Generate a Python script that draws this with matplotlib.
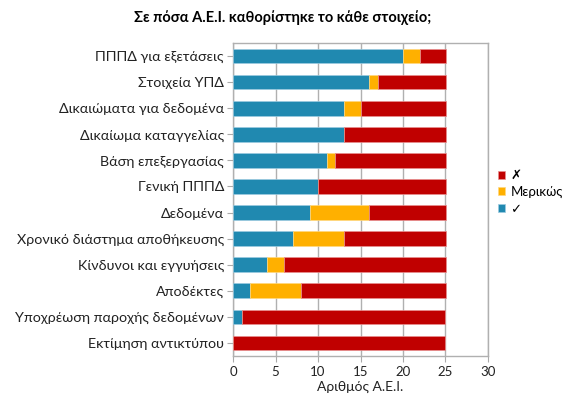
import matplotlib
matplotlib.use("Agg")
import matplotlib.pyplot as plt
import numpy as np

plt.rcParams['font.family'] = ['Lato', 'DejaVu Sans']

# δεδομένα (από πάνω προς τα κάτω)
categories = ["ΠΠΠΔ για εξετάσεις", "Στοιχεία ΥΠΔ", "Δικαιώματα για δεδομένα",
              "Δικαίωμα καταγγελίας", "Βάση επεξεργασίας", "Γενική ΠΠΠΔ",
              "Δεδομένα", "Χρονικό διάστημα αποθήκευσης", "Κίνδυνοι και εγγυήσεις",
              "Αποδέκτες", "Υποχρέωση παροχής δεδομένων", "Εκτίμηση αντικτύπου"]
yes = [20, 16, 13, 13, 11, 10, 9, 7, 4, 2, 1, 0]
partial = [2, 1, 2, 0, 1, 0, 7, 6, 2, 6, 0, 0]
no = [3, 8, 10, 12, 13, 15, 9, 12, 19, 17, 24, 25]
x_ticks = [0, 5, 10, 15, 20, 25, 30]

c_yes = "#2089b0"
c_part = "#ffb000"
c_no = "#c00000"

fig = plt.figure(figsize=(5.66, 3.97), dpi=100)
ax = fig.add_axes([233 / 566, 1 - 356 / 397, 255 / 566, 313 / 397])

y = np.arange(len(categories))
yes_a = np.array(yes)
part_a = np.array(partial)
no_a = np.array(no)
h = 0.56
ax.barh(y, yes_a, height=h, color=c_yes, edgecolor="#9ccbe0", linewidth=0.5, label="✓", zorder=3)
ax.barh(y, part_a, left=yes_a, height=h, color=c_part, edgecolor="#ffd880", linewidth=0.5, label="Μερικώς", zorder=3)
ax.barh(y, no_a, left=yes_a + part_a, height=h, color=c_no, edgecolor="#e89090", linewidth=0.5, label="✗", zorder=3)

ax.set_yticks(y)
ax.set_yticklabels(categories, fontsize=10.25, color="#222222")
ax.set_ylim(len(categories) - 0.5, -0.5)
ax.set_xlim(0, 30)
ax.set_xticks(x_ticks)
ax.tick_params(axis="x", labelsize=9.5, colors="#222222", length=4, color="#aaaaaa")
ax.tick_params(axis="y", length=4, color="#aaaaaa", pad=2.5)
ax.grid(axis="x", color="#b0b0b0", linewidth=1, zorder=0)
for s in ax.spines.values():
    s.set_color("#b0b0b0")
    s.set_linewidth(1)
ax.set_xlabel("Αριθμός Α.Ε.Ι.", fontsize=10, color="#222222", labelpad=2)

fig.suptitle("Σε πόσα Α.Ε.Ι. καθορίστηκε το κάθε στοιχείο;", fontsize=10.5,
             fontweight="bold", y=0.975, x=0.5)

handles, labels = ax.get_legend_handles_labels()
leg = fig.legend(handles[::-1], labels[::-1], loc="center left",
                 bbox_to_anchor=(486 / 566, 1 - 192 / 397), frameon=False,
                 fontsize=9.5, handlelength=0.55, handleheight=0.55,
                 handletextpad=0.4, labelspacing=0.35)

plt.savefig("out.png", dpi=100)
plt.close()
